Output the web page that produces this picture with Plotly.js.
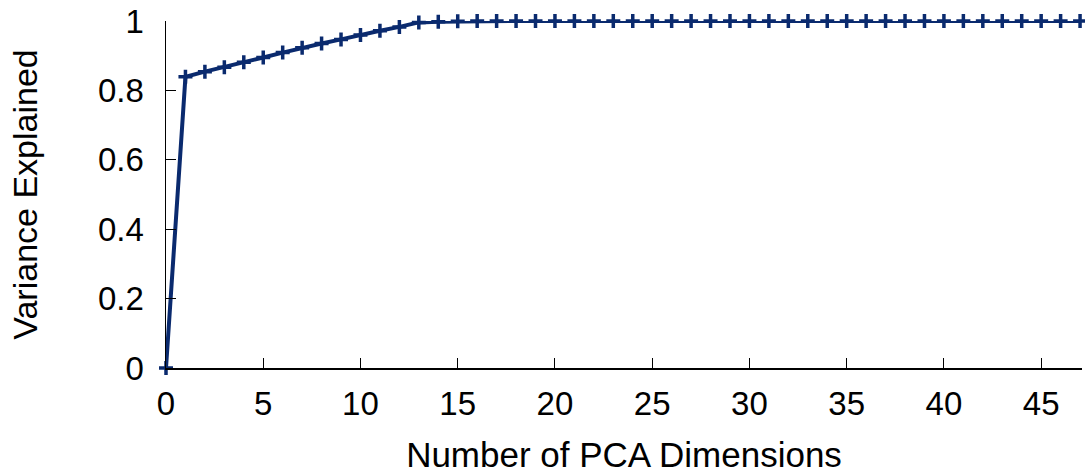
<!DOCTYPE html>
<html>
<head>
<meta charset="utf-8">
<script src="https://cdn.plot.ly/plotly-3.0.1.min.js"></script>
<style>html,body{margin:0;padding:0;background:#fff;}#chart{width:1085px;height:474px;}</style>
</head>
<body>
<div id="chart"></div>
<script>
const dimensions = [0,1,2,3,4,5,6,7,8,9,10,11,12,13,14,15,16,17,18,19,20,21,22,23,24,25,26,27,28,29,30,31,32,33,34,35,36,37,38,39,40,41,42,43,44,45,46,47];
const varianceExplained = [0,0.839,0.854,0.867,0.881,0.895,0.909,0.923,0.935,0.947,0.960,0.972,0.983,0.996,0.998,0.999,1,1,1,1,1,1,1,1,1,1,1,1,1,1,1,1,1,1,1,1,1,1,1,1,1,1,1,1,1,1,1,1];
const xTicks = [0,5,10,15,20,25,30,35,40,45];
const yTicks = [0,0.2,0.4,0.6,0.8,1];

const navy = '#0a2a6e';
const fontFam = '"Liberation Sans", Arial, sans-serif';

Plotly.newPlot('chart', [{
  x: dimensions,
  y: varianceExplained,
  type: 'scatter',
  mode: 'lines+markers',
  line: {color: navy, width: 4},
  marker: {symbol: 'cross-thin', size: 10, color: navy, line: {color: navy, width: 3.5}},
  cliponaxis: false,
  showlegend: false
}], {
  width: 1085, height: 474,
  margin: {l: 166, r: 3, t: 19, b: 106},
  paper_bgcolor: '#fff', plot_bgcolor: '#fff',
  font: {family: fontFam, size: 33, color: '#000'},
  xaxis: {
    range: [0, 47.1],
    tickvals: xTicks,
    ticks: 'inside', ticklen: 10, tickwidth: 1, tickcolor: '#000',
    showline: true, linecolor: '#000', linewidth: 1.5,
    showgrid: false, zeroline: false,
    ticklabelstandoff: 6,
    tickfont: {size: 33},
    title: {text: 'Number of PCA Dimensions', font: {size: 35}, standoff: 21},
    automargin: true
  },
  yaxis: {
    range: [0, 1],
    tickvals: yTicks,
    ticks: 'inside', ticklen: 10, tickwidth: 1, tickcolor: '#000',
    showline: true, linecolor: '#000', linewidth: 1.5,
    showgrid: false, zeroline: false,
    ticklabelstandoff: 14,
    tickfont: {size: 33},
    title: {text: 'Variance Explained', font: {size: 34}, standoff: 50},
    automargin: true
  }
}, {displayModeBar: false, staticPlot: true});
</script>
</body>
</html>
